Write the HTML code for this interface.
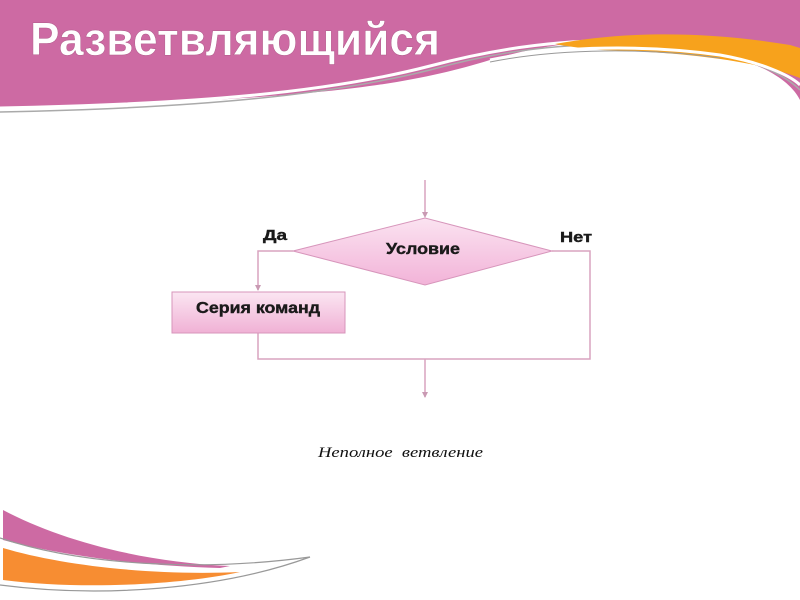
<!DOCTYPE html>
<html><head><meta charset="utf-8"><style>
html,body{margin:0;padding:0;background:#fff;}
svg{display:block;}
</style></head><body>
<svg width="800" height="600" viewBox="0 0 800 600" xmlns="http://www.w3.org/2000/svg">
<defs>
<linearGradient id="pg" x1="0" y1="0" x2="0" y2="1"><stop offset="0" stop-color="#fbe3f1"/><stop offset="1" stop-color="#f2b3d8"/></linearGradient>
<linearGradient id="bg" x1="0" y1="0" x2="0" y2="1"><stop offset="0" stop-color="#fbe6f2"/><stop offset="1" stop-color="#f0b1d5"/></linearGradient>
</defs>
<!-- header -->
<path d="M0,0 H800 V100 C790,80 760,60 700,50 C620,35 560,40 490,60 C400,88 300,100 0,108 Z" fill="#cd6aa3"/>
<path d="M0,112 C200,108 330,95 430,70 C520,45 600,40 680,48 C740,55 780,70 800,90" fill="none" stroke="#aaa" stroke-width="1.5"/>
<path d="M0,108 C200,104 330,92 430,66 C520,42 600,36 680,44" fill="none" stroke="#fff" stroke-width="3"/>
<path d="M555,44 C620,32 700,30 790,45 L800,48 V78 C760,62 690,52 600,50 C580,48 565,46 555,44 Z" fill="#f7a21c"/>
<path d="M490,60 C560,45 650,45 720,55 C760,62 790,75 800,85" fill="none" stroke="#fff" stroke-width="3"/>
<path d="M490,62 C560,48 650,48 720,58" fill="none" stroke="#999" stroke-width="1"/>
<text x="30" y="55" font-family="Liberation Sans, sans-serif" font-weight="bold" font-size="46" textLength="410" lengthAdjust="spacingAndGlyphs" fill="#fff" stroke="#b05a8a" stroke-width="0.5">Разветвляющийся</text>
<!-- diagram lines -->
<g stroke="#d9a3bf" stroke-width="1.5" fill="none">
<line x1="425" y1="180" x2="425" y2="216"/>
<polyline points="293,251 258,251 258,290"/>
<polyline points="258,333 258,359 590,359 590,251 552,251"/>
<line x1="425" y1="359" x2="425" y2="397"/>
</g>
<path d="M422,212 L425,218 L428,212Z" fill="#c99ab3"/>
<path d="M255,285 L258,291 L261,285Z" fill="#c99ab3"/>
<path d="M422,392 L425,398 L428,392Z" fill="#c99ab3"/>
<polygon points="293,251 425,218 552,251 425,285" fill="url(#pg)" stroke="#d795bb" stroke-width="1"/>
<rect x="172" y="292" width="173" height="41" fill="url(#bg)" stroke="#d795bb" stroke-width="1"/>
<g font-family="Liberation Sans, sans-serif" font-weight="bold" fill="#1a1a1a" stroke="#1a1a1a" stroke-width="0.4">
<text x="386" y="254" font-size="16" textLength="74" lengthAdjust="spacingAndGlyphs">Условие</text>
<text x="196" y="313" font-size="16" textLength="124" lengthAdjust="spacingAndGlyphs">Серия команд</text>
<text x="263" y="240" font-size="15" textLength="24" lengthAdjust="spacingAndGlyphs">Да</text>
<text x="560" y="242" font-size="15" textLength="32" lengthAdjust="spacingAndGlyphs">Нет</text>
</g>
<text x="318" y="457" font-family="Liberation Serif, serif" font-style="italic" font-size="15" textLength="165" lengthAdjust="spacingAndGlyphs" fill="#111" xml:space="preserve">Неполное  ветвление</text>
<!-- bottom swoosh -->
<path d="M3,510 C60,540 140,562 230,566 L220,568 C140,566 60,555 3,540 Z" fill="#cd6aa3"/>
<path d="M3,548 C60,565 150,576 240,572 C180,585 80,590 3,580 Z" fill="#f78d32"/>
<path d="M0,538 C80,565 200,572 310,557" fill="none" stroke="#999" stroke-width="1.2"/>
<path d="M0,585 C100,598 220,590 310,557" fill="none" stroke="#999" stroke-width="1.2"/>
</svg>
</body></html>
